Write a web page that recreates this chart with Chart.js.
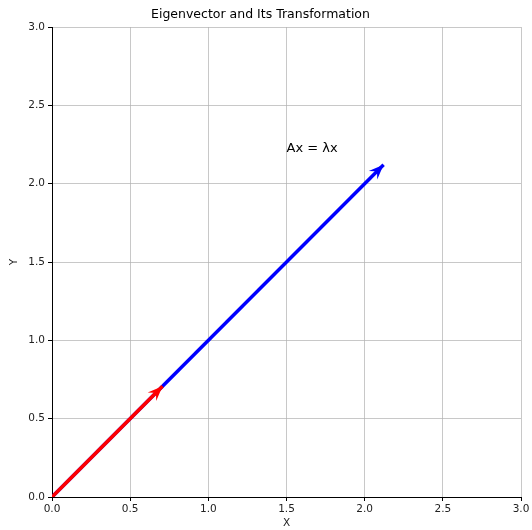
<!DOCTYPE html>
<html>
<head>
<meta charset="utf-8">
<script src="https://cdn.jsdelivr.net/npm/chart.js@4"></script>
<style>
  html, body { margin: 0; padding: 0; background: #fff; }
  #wrap { width: 532px; height: 530px; }
</style>
</head>
<body>
<div id="wrap"><canvas id="eigChart"></canvas></div>
<script>
// vectors (tail -> tip)
const origin = [0, 0];
const eigenvector = [0.707, 0.707];
const transformed = [2.121, 2.121];
const labelPos = [1.5, 2.2];
const labelText = 'Ax = λx';
const tickValues = [0, 0.5, 1, 1.5, 2, 2.5, 3];

const FONT = 'DejaVu Sans';

// arrowheads at the last point of each line dataset
const arrowHeads = {
    id: 'arrowHeads',
    afterDatasetsDraw(chart) {
        const ctx = chart.ctx;
        const xs = chart.scales.x, ys = chart.scales.y;
        chart.data.datasets.forEach(function (ds) {
            if (!ds.arrow) return;
            const a = ds.data[0], b = ds.data[ds.data.length - 1];
            const x0 = xs.getPixelForValue(a.x), y0 = ys.getPixelForValue(a.y);
            const x1 = xs.getPixelForValue(b.x), y1 = ys.getPixelForValue(b.y);
            const ang = Math.atan2(y1 - y0, x1 - x0);
            const len = 15, half = 6, back = 11;
            ctx.save();
            ctx.translate(x1, y1);
            ctx.rotate(ang);
            ctx.beginPath();
            ctx.moveTo(0, 0);
            ctx.lineTo(-len, -half);
            ctx.lineTo(-back, -1.8);
            ctx.lineTo(-back, 1.8);
            ctx.lineTo(-len, half);
            ctx.closePath();
            ctx.fillStyle = ds.borderColor;
            ctx.fill();
            ctx.restore();
        });
    }
};

// text annotation
const annotations = {
    id: 'annotations',
    afterDraw(chart) {
        const ctx = chart.ctx;
        const xs = chart.scales.x, ys = chart.scales.y;
        ctx.save();
        ctx.fillStyle = '#000';
        ctx.font = '13px ' + FONT;
        ctx.textAlign = 'left';
        ctx.textBaseline = 'bottom';
        ctx.fillText(labelText, xs.getPixelForValue(labelPos[0]), ys.getPixelForValue(labelPos[1]) + 3);
        ctx.restore();
    }
};

function seg(p, q) {
    return [{ x: p[0], y: p[1] }, { x: q[0], y: q[1] }];
}

new Chart(document.getElementById('eigChart').getContext('2d'), {
    type: 'scatter',
    data: {
        datasets: [{
            label: 'Ax',
            data: seg(origin, transformed),
            showLine: true,
            borderColor: '#0000ff',
            borderWidth: 3.5,
            pointRadius: 0,
            order: 2,
            arrow: true
        }, {
            label: 'x',
            data: seg(origin, eigenvector),
            showLine: true,
            borderColor: '#ff0000',
            borderWidth: 3.5,
            pointRadius: 0,
            order: 1,
            arrow: true
        }]
    },
    options: {
        responsive: true,
        maintainAspectRatio: false,
        animation: false,
        layout: { padding: { top: 0, right: 11, bottom: 0, left: 0 } },
        plugins: {
            legend: { display: false },
            tooltip: { enabled: false },
            title: {
                display: true,
                text: 'Eigenvector and Its Transformation',
                color: '#000',
                font: { family: FONT, size: 12.5, weight: 'normal' },
                padding: { top: 7, bottom: 5 }
            }
        },
        scales: {
            x: {
                type: 'linear',
                min: 0, max: 3,
                afterBuildTicks: function (s) { s.ticks = tickValues.map(function (v) { return { value: v }; }); },
                border: { color: '#000', width: 1 },
                grid: { color: 'rgba(176,176,176,0.7)', lineWidth: 1, tickColor: '#000', tickLength: 4 },
                ticks: {
                    color: '#222', font: { family: FONT, size: 10.5 }, padding: 2, maxRotation: 0,
                    callback: function (v) { return v.toFixed(1); }
                },
                title: { display: true, text: 'X', color: '#222', font: { family: FONT, size: 10.5 }, padding: { top: 0, bottom: 0 } },
                afterFit: function (s) { s.height = 33; }
            },
            y: {
                type: 'linear',
                min: 0, max: 3,
                afterBuildTicks: function (s) { s.ticks = tickValues.map(function (v) { return { value: v }; }); },
                border: { color: '#000', width: 1 },
                grid: { color: 'rgba(176,176,176,0.7)', lineWidth: 1, tickColor: '#000', tickLength: 4 },
                ticks: {
                    color: '#222', font: { family: FONT, size: 10.5 }, padding: 3,
                    callback: function (v) { return v.toFixed(1); }
                },
                title: { display: true, text: 'Y', color: '#222', font: { family: FONT, size: 10.5 }, padding: { top: 8, bottom: 4 } },
                afterFit: function (s) { s.width = 52; }
            }
        }
    },
    plugins: [arrowHeads, annotations]
});
</script>
</body>
</html>
